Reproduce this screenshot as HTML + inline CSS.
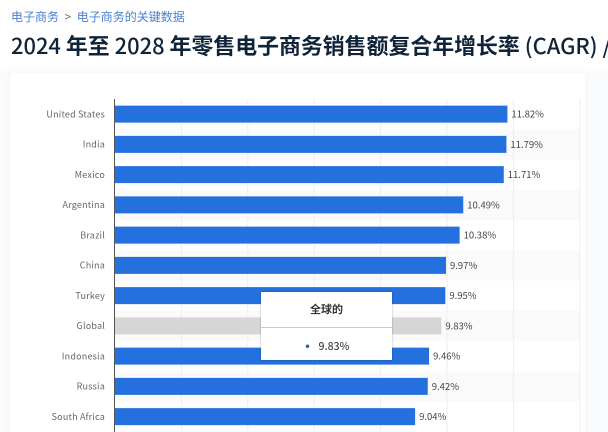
<!DOCTYPE html>
<html>
<head>
<meta charset="utf-8">
<style>
html,body{margin:0;padding:0;background:#fff}
#page{position:relative;width:608px;height:432px;overflow:hidden;background:#fff;font-family:"Noto Sans CJK SC","Liberation Sans",sans-serif;filter:blur(0.35px)}
#crumbs{position:absolute;left:11px;top:8px;font-size:12px;line-height:17px;color:#4a7fd0;white-space:nowrap}
#crumbs .sep{color:#66707c;margin:0 5.5px}
#title{position:absolute;left:11px;top:31px;font-size:21.9px;line-height:29px;font-weight:700;color:#0f2438;white-space:nowrap}
#title .n{font-weight:500}
#shade{position:absolute;left:0;top:62px;width:608px;height:370px;background:linear-gradient(#fff,#fafbfc 12px)}
#card{position:absolute;left:10px;top:73px;width:575px;height:380px;background:#fff;border-radius:4px;box-shadow:0 0 8px rgba(40,60,90,.04)}
#chart{position:absolute;left:0;top:0}
#tip{position:absolute;left:261px;top:292px;width:131px;height:68px;background:#fff;box-shadow:0 0 2px rgba(0,0,0,.3);text-align:center;color:#333}
#tip .h{height:35px;line-height:34px;font-size:11px;font-weight:700;border-bottom:1px solid #ccc}
#tip .b{height:32px;line-height:38px;font-size:10.5px;font-weight:500;color:#444;padding-left:2px}
#tip .d{color:#2a5db0;font-size:4px;margin-right:9px;vertical-align:2px}
</style>
</head>
<body>
<div id="page">
  <div id="shade"></div>
  <div id="crumbs"><a>电子商务</a><span class="sep">&gt;</span><a>电子商务的关键数据</a></div>
  <div id="title"><span class="n">2024</span> 年至 <span class="n">2028</span> 年零售电子商务销售额复合年增长率 <span class="n">(CAGR) /</span></div>
  <div id="card"></div>
  <svg id="chart" width="608" height="432" xmlns="http://www.w3.org/2000/svg"></svg>
  <div id="tip">
    <div class="h">全球的</div>
    <div class="b"><span class="d">●</span>9.83%</div>
  </div>
</div>
<script>
const categories = ["United States","India","Mexico","Argentina","Brazil","China","Turkey","Global","Indonesia","Russia","South Africa"];
const values = [11.82,11.79,11.71,10.49,10.38,9.97,9.95,9.83,9.46,9.42,9.04];
const valueLabels = ["11.82%","11.79%","11.71%","10.49%","10.38%","9.97%","9.95%","9.83%","9.46%","9.42%","9.04%"];
const gridTicks = [2,4,6,8,10,12,14];
const highlighted = ["Global"];

const NS = "http://www.w3.org/2000/svg";
const svg = document.getElementById("chart");
const x0 = 115, unit = 33.2, rowTop = 99, rowStep = 30.25, barH = 17;
function xScale(v){ return x0 + v * unit; }
function yCenter(i){ return rowTop + rowStep * i + rowStep / 2; }
function make(tag, attrs){
  const el = document.createElementNS(NS, tag);
  for (const k in attrs) el.setAttribute(k, attrs[k]);
  svg.appendChild(el);
  return el;
}
categories.forEach(function(c, i){
  if (i % 2 === 1) {
    const band = make("rect", {x: x0, y: yCenter(i) - rowStep / 2, width: xScale(14) - x0, height: rowStep, fill: "#fafafa"});
    
    
  }
});
gridTicks.forEach(function(t){
  const g = make("line", {x1: xScale(t), x2: xScale(t), y1: 99, y2: 432, stroke: "#eeeeee", "stroke-width": 1});
  
  
});
categories.forEach(function(c, i){
  const y = yCenter(i);
  const hi = highlighted.indexOf(c) >= 0;
  const bar = make("rect", {x: x0, y: y - barH / 2, width: xScale(values[i]) - x0, height: barH, fill: hi ? "#d6d6d6" : "#2470de"});
  
  
  const label = make("text", {x: 105, y: y + 3.3, "text-anchor": "end", "font-size": 9, "letter-spacing": 0.2, fill: "#666"});
  label.textContent = c;
  
  
  const val = make("text", {x: xScale(values[i]) + 4, y: y + 3.5, "font-size": 9.5, fill: "#444"});
  val.textContent = valueLabels[i];
  
  
});
const axis = make("line", {x1: x0 - 0.5, x2: x0 - 0.5, y1: 99, y2: 432, stroke: "#555", "stroke-width": 1});


</script>
</body>
</html>
